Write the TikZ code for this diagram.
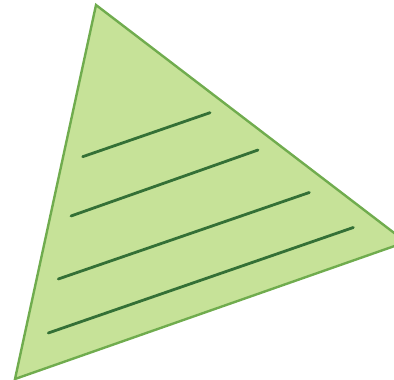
\documentclass[tikz,border=0pt]{standalone}
\definecolor{leaf}{RGB}{198,226,152}
\definecolor{leafedge}{RGB}{112,172,78}
\definecolor{vein}{RGB}{52,112,54}
\tikzset{
  tri/.style={fill=leaf, draw=leafedge, line width=2.4pt, line join=miter},
  veinline/.style={draw=vein, line width=2.8pt, line cap=round}
}
\begin{document}
\begin{tikzpicture}[x=1pt,y=-1pt]
\useasboundingbox (0,0) rectangle (394,380);
\clip (0,0) rectangle (394,380);
\coordinate (top) at (96,5);
\coordinate (bl) at (15,379);
\coordinate (rt) at (406,242);
\draw[tri] (top) -- (rt) -- (bl) -- cycle;
\coordinate (a1) at (82.7,156.7); \coordinate (b1) at (210,112.7);
\coordinate (a2) at (71,216);     \coordinate (b2) at (258,150);
\coordinate (a3) at (58.3,279);   \coordinate (b3) at (309.3,192.5);
\coordinate (a4) at (48.3,333);   \coordinate (b4) at (353.3,227.5);
\draw[veinline] (a1) -- (b1);
\draw[veinline] (a2) -- (b2);
\draw[veinline] (a3) -- (b3);
\draw[veinline] (a4) -- (b4);
\end{tikzpicture}
\end{document}
